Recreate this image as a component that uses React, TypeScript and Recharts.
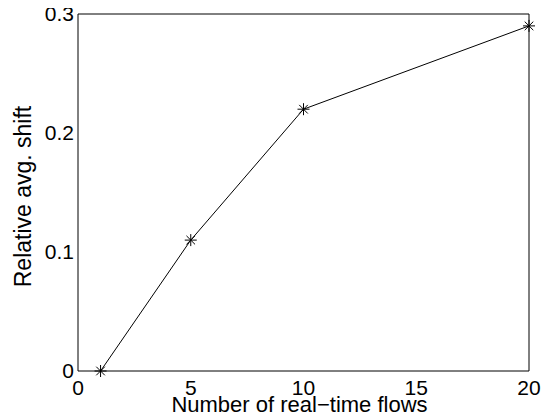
import React from "react"
import { LineChart, Line, XAxis, YAxis } from "recharts"

const flows = [1, 5, 10, 20]
const shift = [0, 0.11, 0.22, 0.29]
const xTicks = [0, 5, 10, 15, 20]
const yTicks = [0, 0.1, 0.2, 0.3]

const data = flows.map((f, i) => ({ flows: f, shift: shift[i] }))

const FONT = "'Liberation Sans', Arial, Helvetica, sans-serif"

// matlab style '*' marker
const Star = (props: any) => {
  const { cx, cy } = props
  if (cx == null || cy == null) return null
  const r = 6
  const d = 4.3
  return (
    <g stroke="#000" strokeWidth={1}>
      <line x1={cx - r} y1={cy} x2={cx + r} y2={cy} />
      <line x1={cx} y1={cy - r} x2={cx} y2={cy + r} />
      <line x1={cx - d} y1={cy - d} x2={cx + d} y2={cy + d} />
      <line x1={cx - d} y1={cy + d} x2={cx + d} y2={cy - d} />
    </g>
  )
}

const YTitle = (props: any) => {
  const vb = props.viewBox
  const x = 15
  const y = vb.y + vb.height / 2 + 4
  return (
    <text x={x} y={y} transform={`rotate(-90 ${x} ${y})`} textAnchor="middle" dominantBaseline="central"
      fontFamily={FONT} fontSize={23} fill="#000">
      Relative avg. shift
    </text>
  )
}

const XTitle = (props: any) => {
  const vb = props.viewBox
  return (
    <text x={vb.x + vb.width / 2 - 4} y={404} textAnchor="middle" fontFamily={FONT} fontSize={22} fill="#000">
      Number of real−time flows
    </text>
  )
}

export default function App() {
  const tickStyle = { fontFamily: FONT, fontSize: 21, fill: "#000" }
  return (
    <LineChart width={541} height={412} data={data} margin={{ top: 6, right: 20, bottom: 0, left: 0 }}>
      {/* label axes */}
      <XAxis dataKey="flows" type="number" domain={[0, 20]} ticks={xTicks} interval={0}
        stroke="#000" tickLine={false} tickSize={0} tickMargin={9} height={49} tick={tickStyle}
        label={{ content: <XTitle /> }} />
      <YAxis type="number" domain={[0, 0.3]} ticks={yTicks} interval={0} width={70}
        stroke="#000" tickLine={false} tickSize={0} tickMargin={4} tick={tickStyle}
        label={{ content: <YTitle /> }} />
      {/* inward ticks + box */}
      <XAxis xAxisId="bt" dataKey="flows" type="number" domain={[0, 20]} ticks={xTicks} interval={0}
        mirror height={1} axisLine={false} stroke="#000" tickSize={5} tick={false} />
      <XAxis xAxisId="top" dataKey="flows" type="number" domain={[0, 20]} ticks={xTicks} interval={0}
        orientation="top" mirror height={1} stroke="#000" tickSize={5} tick={false} />
      <YAxis yAxisId="lt" type="number" domain={[0, 0.3]} ticks={yTicks} interval={0}
        mirror width={1} axisLine={false} stroke="#000" tickSize={5} tick={false} />
      <YAxis yAxisId="right" type="number" domain={[0, 0.3]} ticks={yTicks} interval={0}
        orientation="right" mirror width={1} stroke="#000" tickSize={5} tick={false} />
      <Line dataKey="shift" stroke="#000" strokeWidth={1} dot={<Star />} isAnimationActive={false} />
    </LineChart>
  )
}
